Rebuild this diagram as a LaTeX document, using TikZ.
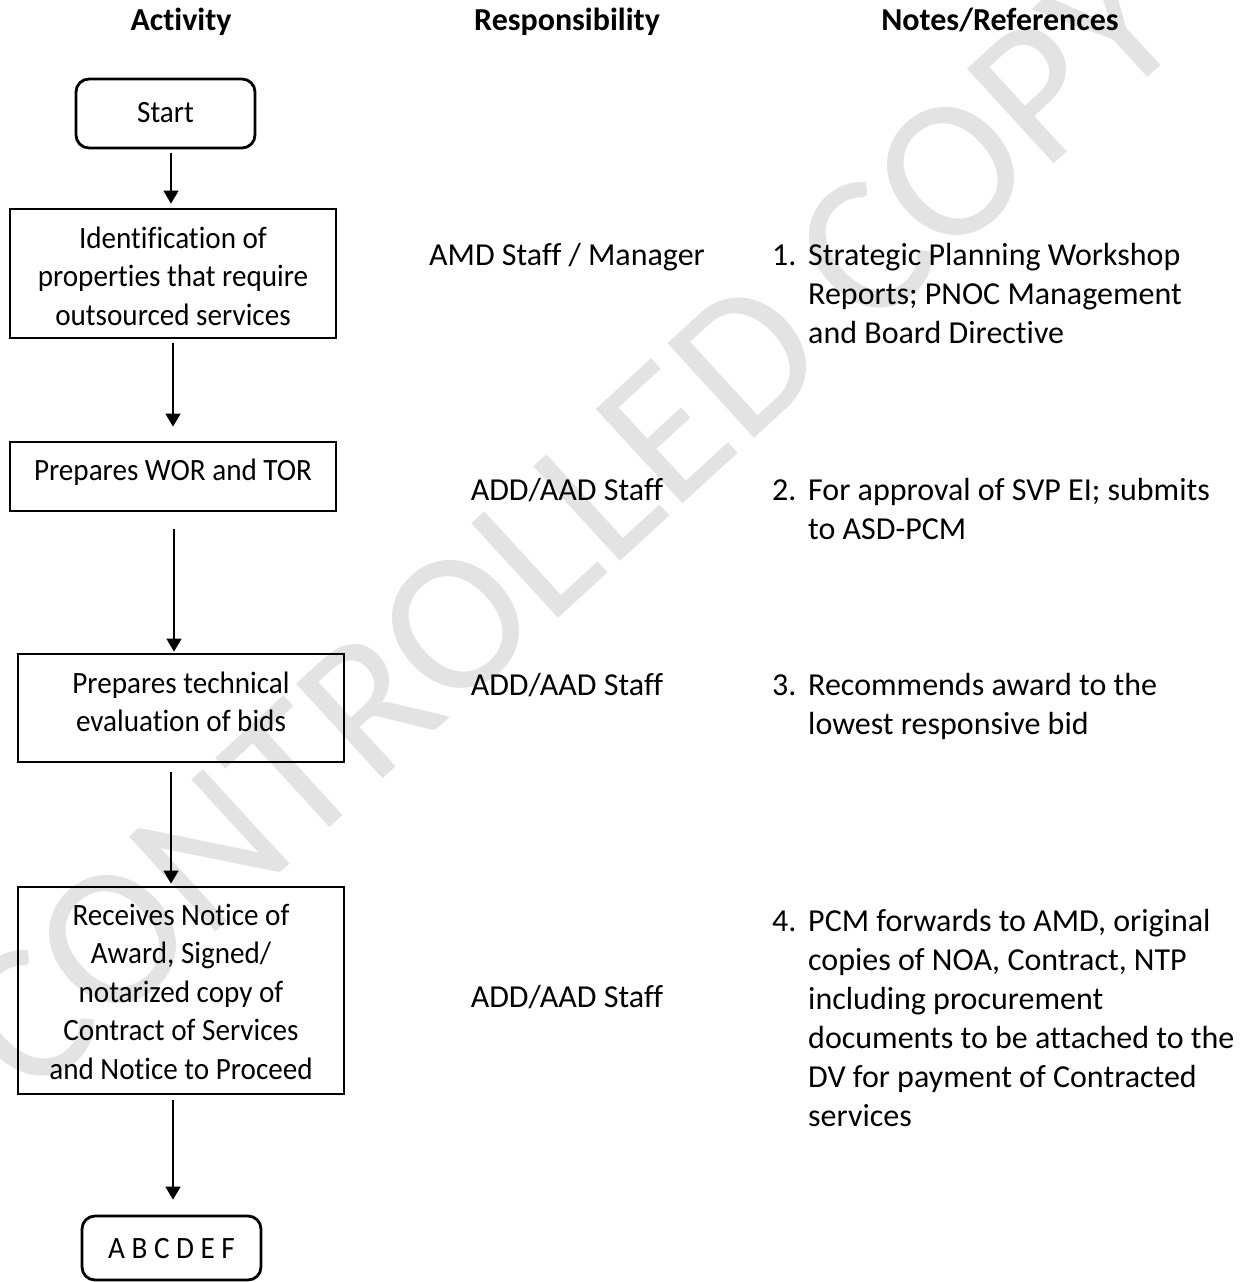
\documentclass[tikz,border=0pt]{standalone}
\usepackage{fontspec}
\setmainfont{Carlito}[Ligatures=NoCommon]
\newfontfamily\boxfont{Carlito}[FakeStretch=0.94,Ligatures=NoCommon]
\usetikzlibrary{arrows.meta}
\newcommand\ctrlines[1]{\vtop{\halign{\hfil##\hfil\cr#1\crcr}}}
\newcommand\leftlines[1]{\vtop{\halign{##\hfil\cr#1\crcr}}}
\begin{document}
\begin{tikzpicture}[x=1pt,y=-1pt,
  box/.style={draw, line width=2.8pt, inner sep=0pt},
  rbox/.style={box, rounded corners=13pt},
  arr/.style={line width=1.7pt, -{Triangle[width=15pt,length=13pt]}},
  btext/.style={font=\boxfont\fontsize{31}{38.5}\selectfont, inner sep=0pt, anchor=base},
  rtext/.style={font=\fontsize{32}{39}\selectfont, inner sep=0pt, anchor=base},
  ntext/.style={rtext, anchor=base west},
  head/.style={font=\bfseries\fontsize{32}{39}\selectfont, inner sep=0pt, anchor=base},
  wm/.style={font=\fontsize{200}{200}\selectfont, text=black!11, inner sep=0pt, rotate=42.5}]
\useasboundingbox (0,0) rectangle (1251,1282);
% watermark
\node[wm] (wmark) at (567,523) {CONTROLLED COPY};
% headers
\node[head] (h1) at (181,30) {Activity};
\node[head] (h2) at (567,30) {Responsibility};
\node[head] (h3) at (1000,30) {Notes/References};
% boxes
\node[rbox, minimum width=179pt, minimum height=69pt] (start) at (165.5,113.5) {};
\node[btext] (tstart) at (165.5,122) {Start};
\node[box, minimum width=326pt, minimum height=129pt] (b1) at (173,273.5) {};
\node[btext] (t1) at (173,248) {\ctrlines{Identification of\cr properties that require\cr outsourced services}};
\node[box, minimum width=326pt, minimum height=69pt] (b2) at (173,476.5) {};
\node[btext] (t2) at (173,480) {Prepares WOR and TOR};
\node[box, minimum width=326pt, minimum height=108pt] (b3) at (181,708) {};
\node[btext] (t3) at (181,693) {\ctrlines{Prepares technical\cr evaluation of bids}};
\node[box, minimum width=326pt, minimum height=207pt] (b4) at (181,990.5) {};
\node[btext] (t4) at (181,925) {\ctrlines{Receives Notice of\cr Award, Signed/\cr notarized copy of\cr Contract of Services\cr and Notice to Proceed}};
\node[rbox, minimum width=179pt, minimum height=64pt] (end) at (171.5,1248) {};
\node[btext] (tend) at (171.5,1258) {A B C D E F};
% arrows
\draw[arr] ([xshift=5.5pt,yshift=-4pt]start.south) -- ([xshift=5.5pt,yshift=4pt]start.south |- b1.north);
\draw[arr] ([yshift=-4pt]b1.south) -- ([yshift=14pt]b1.south |- b2.north);
\draw[arr] ([xshift=1pt,yshift=-17pt]b2.south) -- ([xshift=1pt,yshift=1pt]b2.south |- b3.north);
\draw[arr] ([xshift=-10pt,yshift=-9pt]b3.south) -- ([xshift=-10pt,yshift=2pt]b3.south |- b4.north);
\draw[arr] ([xshift=-8pt,yshift=-5pt]b4.south) -- ([xshift=-8pt,yshift=15pt]b4.south |- end.north);
% responsibility
\node[rtext] (r1) at (567,265) {AMD Staff / Manager};
\node[rtext] (r2) at (567,500) {ADD/AAD Staff};
\node[rtext] (r3) at (567,695) {ADD/AAD Staff};
\node[rtext] (r4) at (567,1007) {ADD/AAD Staff};
% notes
\node[ntext] (n1) at (772,265) {1.};
\node[ntext] (m1) at (808,265) {\leftlines{Strategic Planning Workshop\cr Reports; PNOC Management\cr and Board Directive}};
\node[ntext] (n2) at (772,500) {2.};
\node[ntext] (m2) at (808,500) {\leftlines{For approval of SVP EI; submits\cr to ASD-PCM}};
\node[ntext] (n3) at (772,695) {3.};
\node[ntext] (m3) at (808,695) {\leftlines{Recommends award to the\cr lowest responsive bid}};
\node[ntext] (n4) at (772,931) {4.};
\node[ntext] (m4) at (808,931) {\leftlines{PCM forwards to AMD, original\cr copies of NOA, Contract, NTP\cr including procurement\cr documents to be attached to the\cr DV for payment of Contracted\cr services}};
\end{tikzpicture}
\end{document}
